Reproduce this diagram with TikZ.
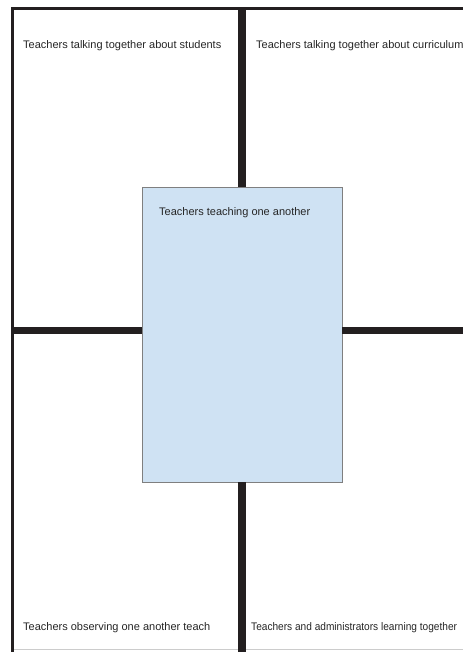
\documentclass[tikz,border=0pt]{standalone}
\usepackage{fontspec}
\setmainfont{Liberation Sans}
\newfontfamily\narrowsans[FakeStretch=0.92]{Liberation Sans}
\definecolor{linedark}{HTML}{231F20}
\definecolor{boxblue}{HTML}{CFE2F3}
\definecolor{boxedge}{HTML}{7F7F7F}
\begin{document}
\begin{tikzpicture}[x=1pt,y=1pt,
  thinframe/.style={draw=linedark,line width=3pt},
  thickbar/.style={draw=linedark,line width=7.5pt},
  label/.style={anchor=base west,inner sep=0pt,font=\fontsize{11}{13}\selectfont,text=black!85}]
\useasboundingbox (0,0) rectangle (463,652);
\clip (0,0) rectangle (463,652);
\fill[white] (0,0) rectangle (463,652);
% outer frame coordinates
\coordinate (tl) at (12.5,643);
\coordinate (tr) at (463,643);
\coordinate (bl) at (12.5,0);
\coordinate (ml) at (12.5,321.5);
\coordinate (mr) at (463,321.5);
\coordinate (ct) at (242,643);
\coordinate (cb) at (242,0);
% bottom faint line
\draw[black!20,line width=1pt] (12.5,2.5) -- (463,2.5);
% centre box
\node[draw=boxedge,fill=boxblue,line width=0.8pt,minimum width=200pt,minimum height=295pt,inner sep=0pt] (box) at (242,317.5) {};
% thick cross bars
\draw[thickbar] (ct) -- (box.north);
\draw[thickbar] (box.south) -- (cb);
\draw[thickbar] (ml) -- (ml -| box.west);
\draw[thickbar] (mr -| box.east) -- (mr);
% outer frame
\draw[thinframe] (bl) -- (tl) -- (tr);
% labels
\node[label] (q1) at (23,603.5) {Teachers talking together about students};
\node[label] (q2) at (256,603.5) {Teachers talking together about curriculum};
\node[label] (q3) at (159,436) {Teachers teaching one another};
\node[label] (q4) at (23,21) {Teachers observing one another teach};
\node[label,font=\narrowsans\fontsize{11}{13}\selectfont] (q5) at (251,21) {Teachers and administrators learning together};
\end{tikzpicture}
\end{document}
